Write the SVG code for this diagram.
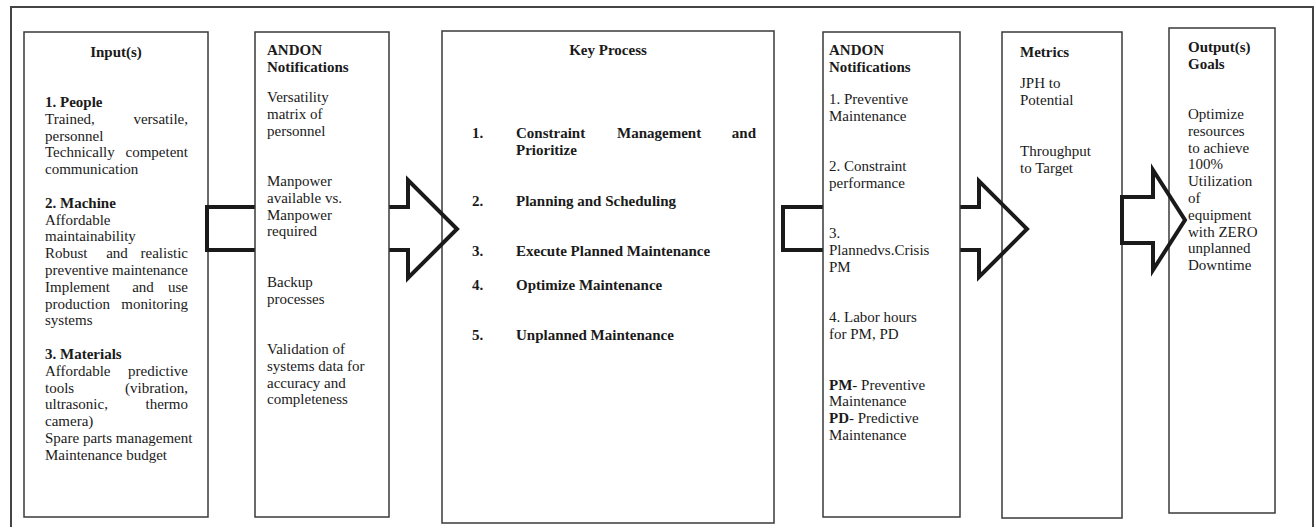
<svg xmlns="http://www.w3.org/2000/svg" width="1316" height="527" viewBox="0 0 1316 527">
<style>
text{font-family:"Liberation Serif","Times New Roman",serif;font-size:15px;fill:#1a1a1a}
.b{font-weight:bold}
.box{fill:#fff;stroke:#3a3a3a;stroke-width:1.5}
.boxn{fill:none;stroke:#3a3a3a;stroke-width:1.5}
.arrow{fill:none;stroke:#1a1a1a;stroke-width:4;stroke-linejoin:miter;stroke-miterlimit:10}
.e{text-anchor:end}
.m{text-anchor:middle}
</style>
<rect x="0" y="0" width="1316" height="527" fill="#fff"/>
<rect id="frame" x="11" y="7" width="1302" height="530" fill="none" stroke="#444" stroke-width="2"/>

<g id="input">
<rect class="box" x="24" y="32" width="184" height="485"/>
<text class="b m" x="116" y="57">Input(s)</text>
<text class="b" x="45" y="107">1. People</text>
<text x="45" y="123.8">Trained,</text><text class="e" x="188" y="123.8">versatile,</text>
<text x="45" y="140.6">personnel</text>
<text x="45" y="157.4">Technically</text><text class="e" x="188" y="157.4">competent</text>
<text x="45" y="174.2">communication</text>
<text class="b" x="45" y="207.8">2. Machine</text>
<text x="45" y="224.6">Affordable</text>
<text x="45" y="241.4">maintainability</text>
<text x="45" y="258.2">Robust</text><text class="m" x="117" y="258.2">and</text><text class="e" x="188" y="258.2">realistic</text>
<text x="45" y="275">preventive maintenance</text>
<text x="45" y="291.8">Implement</text><text class="m" x="143" y="291.8">and</text><text class="e" x="188" y="291.8">use</text>
<text x="45" y="308.6">production</text><text class="e" x="188" y="308.6">monitoring</text>
<text x="45" y="325.4">systems</text>
<text class="b" x="45" y="359">3. Materials</text>
<text x="45" y="375.8">Affordable</text><text class="e" x="188" y="375.8">predictive</text>
<text x="45" y="392.6">tools</text><text class="e" x="188" y="392.6">(vibration,</text>
<text x="45" y="409.4">ultrasonic,</text><text class="e" x="188" y="409.4">thermo</text>
<text x="45" y="426.2">camera)</text>
<text x="45" y="443">Spare parts management</text>
<text x="45" y="459.8">Maintenance budget</text>
</g>

<g id="key-process">
<rect class="boxn" x="442" y="31" width="332" height="492"/>
<text class="b m" x="608" y="55">Key Process</text>
<text class="b" x="472" y="138">1.</text>
<text class="b" x="516" y="138">Constraint</text><text class="b" x="617" y="138">Management</text><text class="b e" x="756" y="138">and</text>
<text class="b" x="516" y="155">Prioritize</text>
<text class="b" x="472" y="206">2.</text><text class="b" x="516" y="206">Planning and Scheduling</text>
<text class="b" x="472" y="256">3.</text><text class="b" x="516" y="256">Execute Planned Maintenance</text>
<text class="b" x="472" y="290">4.</text><text class="b" x="516" y="290">Optimize Maintenance</text>
<text class="b" x="472" y="340">5.</text><text class="b" x="516" y="340">Unplanned Maintenance</text>
</g>

<g id="metrics">
<rect class="box" x="1002" y="32" width="120" height="486"/>
<text class="b" x="1020" y="57">Metrics</text>
<text x="1020" y="88">JPH to</text>
<text x="1020" y="105">Potential</text>
<text x="1020" y="156">Throughput</text>
<text x="1020" y="173">to Target</text>
</g>

<g id="output">
<rect class="box" x="1169" y="28" width="106" height="485"/>
<text class="b" x="1188" y="52">Output(s)</text>
<text class="b" x="1188" y="69">Goals</text>
<text x="1188" y="119">Optimize</text>
<text x="1188" y="135.8">resources</text>
<text x="1188" y="152.6">to achieve</text>
<text x="1188" y="169.4">100%</text>
<text x="1188" y="186.2">Utilization</text>
<text x="1188" y="203">of</text>
<text x="1188" y="219.8">equipment</text>
<text x="1188" y="236.6">with ZERO</text>
<text x="1188" y="253.4">unplanned</text>
<text x="1188" y="270.2">Downtime</text>
</g>

<g id="connectors">
<path class="arrow" d="M207,207 H408 V180 L457,229 L408,278 V250 H207 Z"/>
<path class="arrow" d="M783,207 H979 V181 L1027,229 L979,277 V250 H783 Z"/>
<path class="arrow" d="M1122,197 H1153 V170 L1185,220 L1153,270 V243 H1122 Z"/>
</g>

<g id="andon-1">
<rect class="box" x="255" y="32" width="134" height="485"/>
<text class="b" x="267" y="55">ANDON</text>
<text class="b" x="267" y="72">Notifications</text>
<text x="267" y="102">Versatility</text>
<text x="267" y="118.8">matrix of</text>
<text x="267" y="135.6">personnel</text>
<text x="267" y="186">Manpower</text>
<text x="267" y="202.8">available vs.</text>
<text x="267" y="219.6">Manpower</text>
<text x="267" y="236.4">required</text>
<text x="267" y="286.8">Backup</text>
<text x="267" y="303.6">processes</text>
<text x="267" y="354">Validation of</text>
<text x="267" y="370.8">systems data for</text>
<text x="267" y="387.6">accuracy and</text>
<text x="267" y="404.4">completeness</text>
</g>

<g id="andon-2">
<rect class="box" x="823" y="32" width="137" height="485"/>
<text class="b" x="829" y="55">ANDON</text>
<text class="b" x="829" y="72">Notifications</text>
<text x="829" y="104">1. Preventive</text>
<text x="829" y="120.8">Maintenance</text>
<text x="829" y="171.2">2. Constraint</text>
<text x="829" y="188">performance</text>
<text x="829" y="238.4">3.</text>
<text x="829" y="255.2">Plannedvs.Crisis</text>
<text x="829" y="272">PM</text>
<text x="829" y="322.4">4. Labor hours</text>
<text x="829" y="339.2">for PM, PD</text>
<text x="829" y="389.6"><tspan class="b">PM</tspan>- Preventive</text>
<text x="829" y="406.4">Maintenance</text>
<text x="829" y="423.2"><tspan class="b">PD</tspan>- Predictive</text>
<text x="829" y="440">Maintenance</text>
</g>
</svg>
